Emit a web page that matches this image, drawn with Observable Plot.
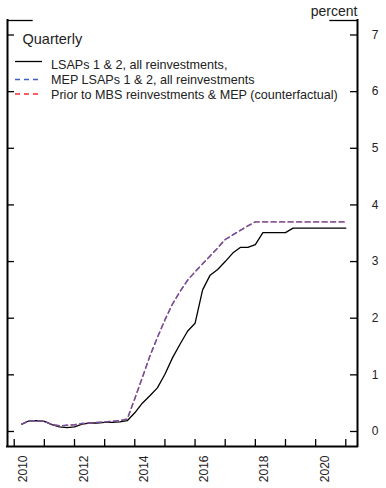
<!DOCTYPE html>
<html><head><meta charset="utf-8">
<script src="https://cdn.jsdelivr.net/npm/d3@7"></script>
<script src="https://cdn.jsdelivr.net/npm/@observablehq/plot@0.6"></script>
<style>html,body{margin:0;padding:0;background:#fff;} svg{display:block;}</style>
</head><body><div id="chart"></div>
<script>
const quarters = [
  "2010Q1","2010Q2","2010Q3","2010Q4","2011Q1","2011Q2","2011Q3","2011Q4",
  "2012Q1","2012Q2","2012Q3","2012Q4","2013Q1","2013Q2","2013Q3","2013Q4",
  "2014Q1","2014Q2","2014Q3","2014Q4","2015Q1","2015Q2","2015Q3","2015Q4",
  "2016Q1","2016Q2","2016Q3","2016Q4","2017Q1","2017Q2","2017Q3","2017Q4",
  "2018Q1","2018Q2","2018Q3","2018Q4","2019Q1","2019Q2","2019Q3","2019Q4",
  "2020Q1","2020Q2","2020Q3","2020Q4"
];
const lsapsAll = [
  0.13,0.19,0.19,0.18, 0.12,0.08,0.07,0.08,
  0.13,0.15,0.15,0.16, 0.16,0.17,0.19,0.33,
  0.50,0.63,0.77,1.01, 1.30,1.54,1.77,1.91,
  2.50,2.76,2.86,3.00, 3.15,3.25,3.25,3.30,
  3.51,3.51,3.51,3.51, 3.59,3.59,3.59,3.59,
  3.59,3.59,3.59,3.59
];
const mepLsaps = [
  0.13,0.19,0.19,0.18, 0.12,0.10,0.11,0.12,
  0.14,0.15,0.16,0.17, 0.18,0.19,0.22,0.58,
  0.95,1.33,1.66,1.97, 2.25,2.47,2.67,2.82,
  2.96,3.10,3.24,3.39, 3.47,3.55,3.63,3.70,
  3.70,3.70,3.70,3.70, 3.70,3.70,3.70,3.70,
  3.70,3.70,3.70,3.70
];
const counterfactual = [
  0.13,0.19,0.19,0.18, 0.12,0.10,0.11,0.12,
  0.14,0.15,0.16,0.17, 0.18,0.19,0.22,0.58,
  0.95,1.33,1.66,1.97, 2.25,2.47,2.67,2.82,
  2.96,3.10,3.24,3.39, 3.47,3.55,3.63,3.70,
  3.70,3.70,3.70,3.70, 3.70,3.70,3.70,3.70,
  3.70,3.70,3.70,3.70
];
const yTicks = [0,1,2,3,4,5,6,7];
const yearTicks = [2010,2011,2012,2013,2014,2015,2016,2017,2018,2019,2020,2021];
const yearLabels = ["2010","2012","2014","2016","2018","2020"];
const seriesNames = [
  "LSAPs 1 & 2, all reinvestments,",
  "MEP LSAPs 1 & 2, all reinvestments",
  "Prior to MBS reinvestments & MEP (counterfactual)"
];
const unitLabel = "percent";
const freqLabel = "Quarterly";

// quarter label -> decimal year (quarter end)
const qx = q => +q.slice(0,4) + (+q.slice(5)) * 0.25;
const rows = (vals) => quarters.map((q,i) => ({x: qx(q), y: vals[i]}));

const W = 386, H = 488;
const mL = 7, mR = 29, mT = 20, mB = 42;
const pw = W - mL - mR, ph = H - mT - mB;
const xDom = [2009.777, 2021.389];
const yDom = [-0.265, 7.256];
const font = "'Liberation Sans', Arial, sans-serif";
const txt = "#222";
const blue = "#3d5fc4", red = "#ff2a2a";

const plot = Plot.plot({
  width: W, height: H,
  marginLeft: mL, marginRight: mR, marginTop: mT, marginBottom: mB,
  x: {type: "linear", domain: xDom, axis: null},
  y: {type: "linear", domain: yDom, axis: null},
  style: {fontFamily: font, background: "#fff", color: txt},
  marks: [
    // frame
    Plot.ruleX([xDom[0], xDom[1]], {stroke: "#000", strokeWidth: 2, strokeLinecap: "square"}),
    Plot.ruleY([yDom[0]], {stroke: "#000", strokeWidth: 2, strokeLinecap: "square"}),
    Plot.ruleY([yDom[1]], {x1: xDom[0], x2: 2010.63, stroke: "#000", strokeWidth: 1.3}),
    Plot.ruleY([yDom[1]], {x1: 2020.47, x2: xDom[1], stroke: "#000", strokeWidth: 1.3}),
    // y ticks inward both sides
    Plot.ruleY(yTicks, {insetRight: pw - 7, stroke: "#000", strokeWidth: 1.3}),
    Plot.ruleY(yTicks, {insetLeft: pw - 7, stroke: "#000", strokeWidth: 1.3}),
    // x ticks inward
    Plot.ruleX(yearTicks, {insetTop: ph - 7, stroke: "#000", strokeWidth: 1.3}),
    // y labels on right
    Plot.text(yTicks, {y: d => d, frameAnchor: "right", dx: 21, text: d => String(d), fontSize: 12, fill: txt}),
    // x labels rotated
    Plot.text(yearLabels, {x: d => +d + 0.5, frameAnchor: "bottom", rotate: -90, textAnchor: "end", dy: 9, dx: -2, text: d => d, fontSize: 12, fill: txt}),
    // unit + frequency
    Plot.text([unitLabel], {frameAnchor: "top-right", textAnchor: "end", lineAnchor: "bottom", dy: -4.5, text: d => d, fontSize: 14, fill: txt}),
    Plot.text([freqLabel], {frameAnchor: "top-left", textAnchor: "start", lineAnchor: "bottom", dx: 15, dy: 23.5, text: d => d, fontSize: 14.5, fill: txt}),
    // series
    Plot.line(rows(lsapsAll), {x: "x", y: "y", stroke: "#000", strokeWidth: 1.3}),
    Plot.line(rows(counterfactual), {x: "x", y: "y", stroke: red, strokeWidth: 1.4, strokeDasharray: "5,3.5"}),
    Plot.line(rows(mepLsaps), {x: "x", y: "y", stroke: blue, strokeOpacity: 0.82, strokeWidth: 1.4, strokeDasharray: "5,3.5"})
  ]
});
document.getElementById("chart").appendChild(plot);

// legend inside the plot area
const svg = d3.select(plot);
const lg = svg.append("g")
  .attr("font-family", font).attr("font-size", 12.6)
  .attr("fill", txt).attr("text-anchor", "start");
const legendStyles = [
  {stroke: "#000", dash: "none", ly: 61.5, ty: 68.5},
  {stroke: blue, dash: "5,4", ly: 79.5, ty: 83.8},
  {stroke: red, dash: "5,4", ly: 94, ty: 98.8}
];
seriesNames.forEach((name, i) => {
  const s = legendStyles[i];
  lg.append("line").attr("x1", 15).attr("x2", 42).attr("y1", s.ly).attr("y2", s.ly)
    .attr("stroke", s.stroke).attr("stroke-width", 1.3).attr("stroke-dasharray", s.dash);
  lg.append("text").attr("x", 51).attr("y", s.ty).attr("text-anchor", "start").text(name);
});
</script>
</body></html>
